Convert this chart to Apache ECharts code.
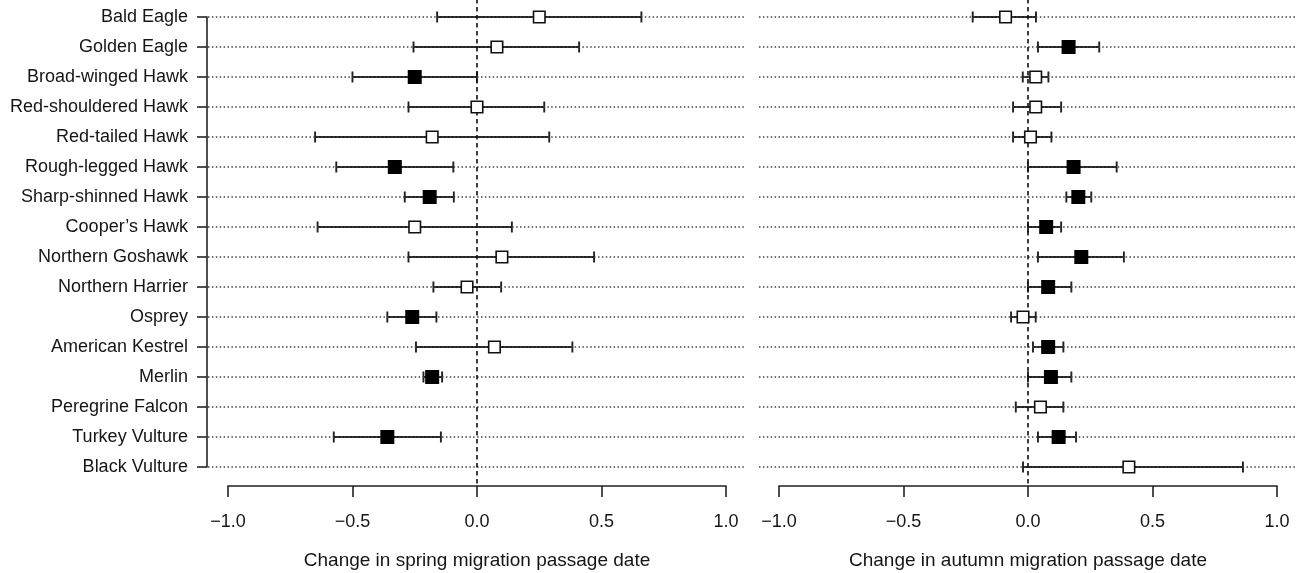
<!DOCTYPE html>
<html>
<head>
<meta charset="utf-8">
<script src="https://cdn.jsdelivr.net/npm/echarts@6/dist/echarts.min.js"></script>
<style>
html,body{margin:0;padding:0;background:#fff;}
#chart{width:1297px;height:573px;}
</style>
</head>
<body>
<div id="chart"></div>
<script>
const species = ['Bald Eagle','Golden Eagle','Broad-winged Hawk','Red-shouldered Hawk','Red-tailed Hawk','Rough-legged Hawk','Sharp-shinned Hawk','Cooper\u2019s Hawk','Northern Goshawk','Northern Harrier','Osprey','American Kestrel','Merlin','Peregrine Falcon','Turkey Vulture','Black Vulture'];

const springEst = [0.25, 0.08, -0.25, 0.0, -0.18, -0.33, -0.19, -0.25, 0.10, -0.04, -0.26, 0.07, -0.18, null, -0.36, null];
const springLo  = [-0.16, -0.255, -0.50, -0.275, -0.65, -0.565, -0.29, -0.64, -0.275, -0.175, -0.36, -0.245, -0.215, null, -0.575, null];
const springHi  = [0.66, 0.41, 0.0, 0.27, 0.29, -0.095, -0.093, 0.14, 0.47, 0.097, -0.163, 0.383, -0.14, null, -0.145, null];
const springSig = [0, 0, 1, 0, 0, 1, 1, 0, 0, 0, 1, 0, 1, null, 1, null];

const autumnEst = [-0.09, 0.163, 0.031, 0.031, 0.01, 0.183, 0.202, 0.073, 0.214, 0.081, -0.02, 0.081, 0.092, 0.05, 0.123, 0.405];
const autumnLo  = [-0.222, 0.04, -0.021, -0.06, -0.06, 0.0, 0.154, 0.0, 0.04, 0.0, -0.068, 0.02, 0.0, -0.049, 0.04, -0.02];
const autumnHi  = [0.032, 0.286, 0.082, 0.133, 0.094, 0.356, 0.254, 0.133, 0.385, 0.174, 0.031, 0.142, 0.174, 0.142, 0.193, 0.863];
const autumnSig = [0, 1, 0, 0, 0, 1, 1, 1, 1, 1, 0, 1, 1, 0, 1, 0];

const xTickValues = [-1.0, -0.5, 0.0, 0.5, 1.0];
const xTickLabels = ['\u22121.0', '\u22120.5', '0.0', '0.5', '1.0'];
const xTitles = ['Change in spring migration passage date', 'Change in autumn migration passage date'];

const FONT = "'Liberation Sans', Arial, Helvetica, sans-serif";
const INK = '#151515';
const LINE = '#222';

const chart = echarts.init(document.getElementById('chart'), null, {renderer: 'canvas'});

function barData(lo, hi) {
  const out = [];
  for (let i = 0; i < species.length; i++) {
    if (lo[i] != null && hi[i] != null) out.push([i, lo[i], hi[i]]);
  }
  return out;
}
function pointData(est, sig, want) {
  const out = [];
  for (let i = 0; i < species.length; i++) {
    if (est[i] != null && sig[i] === want) out.push([est[i], i]);
  }
  return out;
}
function renderBar(params, api) {
  const i = api.value(0);
  const p1 = api.coord([api.value(1), i]);
  const p2 = api.coord([api.value(2), i]);
  const cap = 5.5;
  const st = {stroke: LINE, lineWidth: 1.9};
  return {
    type: 'group',
    children: [
      {type: 'line', shape: {x1: p1[0], y1: p1[1], x2: p2[0], y2: p2[1]}, style: st},
      {type: 'line', shape: {x1: p1[0], y1: p1[1] - cap, x2: p1[0], y2: p1[1] + cap}, style: st},
      {type: 'line', shape: {x1: p2[0], y1: p2[1] - cap, x2: p2[0], y2: p2[1] + cap}, style: st}
    ]
  };
}

const DATA_XMIN = -1.08, DATA_XMAX = 1.08;
const panels = [
  {left: 208, est: springEst, lo: springLo, hi: springHi, sig: springSig},
  {left: 759, est: autumnEst, lo: autumnLo, hi: autumnHi, sig: autumnSig}
];

const grid = [], xAxis = [], yAxis = [], series = [];

panels.forEach((p, k) => {
  const gData = grid.length;
  grid.push({left: p.left, top: -1, width: 538, height: 486, containLabel: false, outerBoundsMode: 'none'});
  xAxis.push({type: 'value', gridIndex: gData, min: DATA_XMIN, max: DATA_XMAX, show: false, splitLine: {show: false}});
  yAxis.push({type: 'value', gridIndex: gData, min: -0.6, max: 15.6, inverse: true, show: false, splitLine: {show: false}});
  const axIdx = xAxis.length - 1;

  series.push({
    type: 'custom',
    xAxisIndex: axIdx, yAxisIndex: axIdx,
    data: barData(p.lo, p.hi),
    encode: {x: [1, 2], y: 0},
    renderItem: renderBar,
    z: 3,
    silent: true,
    markLine: {
      silent: true,
      symbol: ['none', 'none'],
      label: {show: false},
      lineStyle: {color: '#444', width: 1.5, type: [1.5, 2.4]},
      data: species.map((s, i) => ({yAxis: i}))
    }
  });
  series.push({
    type: 'line',
    xAxisIndex: axIdx, yAxisIndex: axIdx,
    data: [],
    silent: true,
    markLine: {
      silent: true,
      symbol: ['none', 'none'],
      label: {show: false},
      lineStyle: {color: '#111', width: 1.6, type: [4.5, 3.5]},
      data: [{xAxis: 0}]
    },
    z: 4
  });
  series.push({
    type: 'scatter',
    xAxisIndex: axIdx, yAxisIndex: axIdx,
    data: pointData(p.est, p.sig, 0),
    symbol: 'rect', symbolSize: 11.5,
    itemStyle: {color: '#fff', borderColor: '#111', borderWidth: 1.6, opacity: 1},
    z: 6, silent: true
  });
  series.push({
    type: 'scatter',
    xAxisIndex: axIdx, yAxisIndex: axIdx,
    data: pointData(p.est, p.sig, 1),
    symbol: 'rect', symbolSize: 14,
    itemStyle: {color: '#000', borderColor: '#000', borderWidth: 0, opacity: 1},
    z: 6, silent: true
  });

  if (k === 0) {
    const gLab = grid.length;
    grid.push({left: p.left - 1, top: 17, width: 538, height: 450, containLabel: false, outerBoundsMode: 'none'});
    xAxis.push({type: 'value', gridIndex: gLab, min: DATA_XMIN, max: DATA_XMAX, show: false});
    yAxis.push({
      type: 'category', gridIndex: gLab, data: species, inverse: true, boundaryGap: false,
      position: 'left',
      axisLine: {show: true, onZero: false, lineStyle: {color: LINE, width: 1.6}},
      axisTick: {show: true, length: 10, inside: false, lineStyle: {color: LINE, width: 1.6}},
      axisLabel: {show: true, margin: 19, color: INK, fontFamily: FONT, fontSize: 18, interval: 0},
      splitLine: {show: false}
    });
  }

  const gAx = grid.length;
  grid.push({left: p.left + 20, top: 300, width: 498, height: 186, containLabel: false, outerBoundsMode: 'none'});
  xAxis.push({
    type: 'value', gridIndex: gAx, min: -1, max: 1, interval: 0.5, position: 'bottom',
    axisLine: {show: true, onZero: false, lineStyle: {color: LINE, width: 1.6}},
    axisTick: {show: true, length: 11, inside: false, lineStyle: {color: LINE, width: 1.6}},
    axisLabel: {
      show: true, margin: 27, color: INK, fontFamily: FONT, fontSize: 18,
      formatter: v => { const j = xTickValues.findIndex(t => Math.abs(t - v) < 1e-9); return j >= 0 ? xTickLabels[j] : ''; }
    },
    splitLine: {show: false},
    name: xTitles[k], nameLocation: 'middle', nameGap: 65,
    nameTextStyle: {color: INK, fontFamily: FONT, fontSize: 19}
  });
  yAxis.push({type: 'value', gridIndex: gAx, show: false});
});

chart.setOption({
  animation: false,
  backgroundColor: '#fff',
  grid, xAxis, yAxis, series
});
</script>
</body>
</html>
